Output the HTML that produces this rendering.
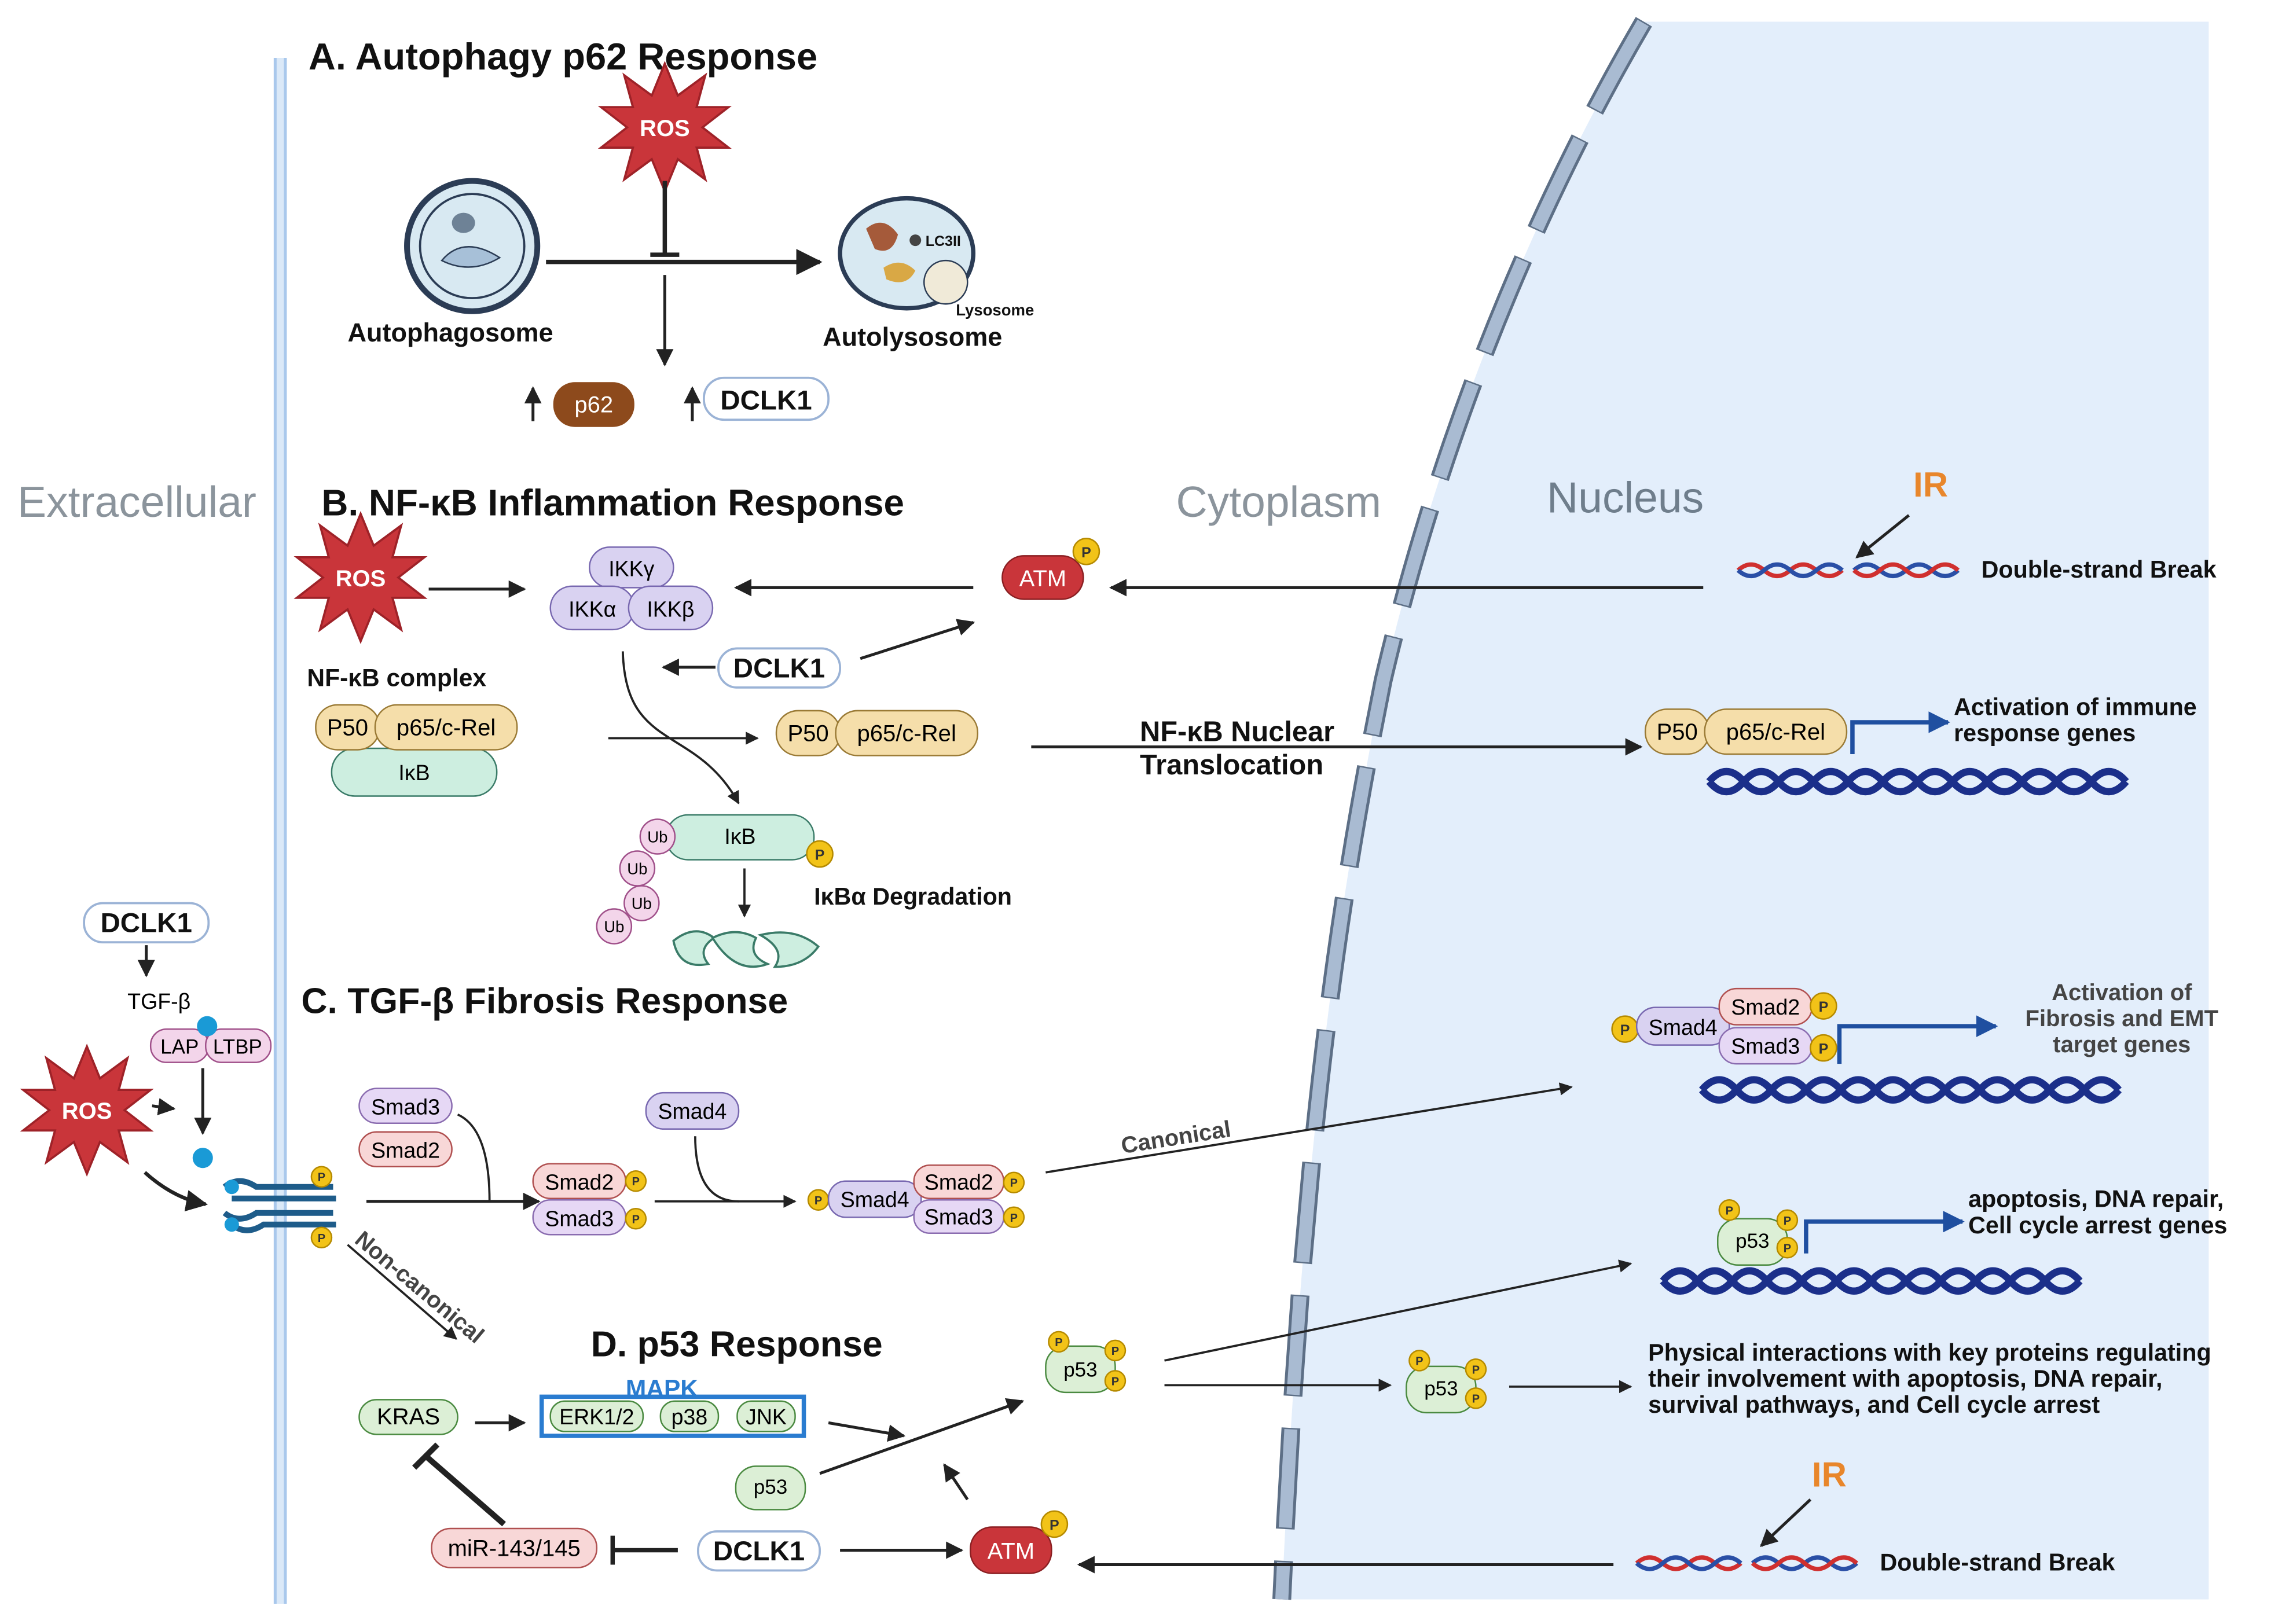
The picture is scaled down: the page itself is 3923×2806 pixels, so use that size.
<!DOCTYPE html>
<html><head><meta charset="utf-8"><style>
html,body{margin:0;padding:0;background:#fff}
svg{display:block}
text{font-family:"Liberation Sans",Arial,sans-serif}
.t{font-weight:bold;font-size:26px;fill:#111}
.b{font-weight:bold;fill:#111}
</style></head><body>
<svg width="3923" height="2806" viewBox="0 0 1568 1122" preserveAspectRatio="none" xmlns="http://www.w3.org/2000/svg">
<defs>
<marker id="ah" viewBox="0 0 10 10" refX="9" refY="5" markerWidth="6" markerHeight="6" orient="auto"><path d="M0,0 L10,5 L0,10 z" fill="#222"/></marker>
<marker id="bh" viewBox="0 0 10 10" refX="9" refY="5" markerWidth="5" markerHeight="5" orient="auto"><path d="M0,0 L10,5 L0,10 z" fill="#1f4fa0"/></marker>
<g id="ros"><polygon points="0,-44 9,-22 28,-36 22,-14 44,-14 26,0 44,14 22,14 28,36 9,22 0,44 -9,22 -28,36 -22,14 -44,14 -26,0 -44,-14 -22,-14 -28,-36 -9,-22" fill="#c9353a" stroke="#9e2228" stroke-width="1.5"/><text x="0" y="6" text-anchor="middle" font-size="16" font-weight="bold" fill="#fff">ROS</text></g>
<g id="p"><circle r="9" fill="#f2c318" stroke="#b58a00"/><text y="4" text-anchor="middle" font-size="10" font-weight="bold" fill="#333">P</text></g>
<g id="ps"><circle r="7" fill="#f2c318" stroke="#b58a00"/><text y="3" text-anchor="middle" font-size="8" font-weight="bold" fill="#333">P</text></g>
<g id="dna1"><path d="M0,0 q12,-14 24,0 t24,0 t24,0 t24,0 t24,0 t24,0 t24,0 t24,0 t24,0 t24,0 t24,0 t24,0" fill="none" stroke="#1b2f8a" stroke-width="5"/><path d="M0,0 q12,14 24,0 t24,0 t24,0 t24,0 t24,0 t24,0 t24,0 t24,0 t24,0 t24,0 t24,0 t24,0" fill="none" stroke="#1b2f8a" stroke-width="5"/></g>
<g id="dsb"><path d="M0,0 q9,-8 18,0 t18,0 t18,0 t18,0" fill="none" stroke="#d0302f" stroke-width="3"/><path d="M0,0 q9,8 18,0 t18,0 t18,0 t18,0" fill="none" stroke="#2a4fa6" stroke-width="3"/><path d="M80,0 q9,-8 18,0 t18,0 t18,0 t18,0" fill="none" stroke="#2a4fa6" stroke-width="3"/><path d="M80,0 q9,8 18,0 t18,0 t18,0 t18,0" fill="none" stroke="#d0302f" stroke-width="3"/></g>
</defs>

<path d="M1135,15 C1050,160 990,320 955,470 C925,620 900,780 885,1105 L1525,1105 L1525,15 Z" fill="#e3eefb"/>
<path d="M1135,15 C1050,160 990,320 955,470 C925,620 900,780 885,1105" fill="none" stroke="#5d6f86" stroke-width="13" stroke-dasharray="70,22"/>
<path d="M1135,15 C1050,160 990,320 955,470 C925,620 900,780 885,1105" fill="none" stroke="#a9bbd2" stroke-width="9" stroke-dasharray="68,24" stroke-dashoffset="-1"/>

<rect x="189" y="40" width="9" height="1068" fill="#dbe9f8"/>
<line x1="190" y1="40" x2="190" y2="1108" stroke="#a9c8ec" stroke-width="2"/>
<line x1="197" y1="40" x2="197" y2="1108" stroke="#a9c8ec" stroke-width="2"/>

<text x="12" y="357" font-size="30" fill="#8b949c">Extracellular</text>
<text x="812" y="357" font-size="30" fill="#8b949c">Cytoplasm</text>
<text x="1068" y="354" font-size="30" fill="#6f7e8c">Nucleus</text>

<!-- A -->
<text x="213" y="48" class="t">A. Autophagy p62 Response</text>
<use href="#ros" x="459" y="88"/>
<circle cx="326" cy="170" r="45" fill="#d8e9f2" stroke="#2b3c55" stroke-width="4"/>
<circle cx="326" cy="170" r="36" fill="none" stroke="#2b3c55" stroke-width="1.5"/>
<ellipse cx="320" cy="154" rx="8" ry="7" fill="#6e8296"/>
<path d="M305,180 q15,-18 40,-2 q-20,12 -40,2z" fill="#a7c0d8" stroke="#2b3c55"/>
<text x="240" y="236" class="b" font-size="18">Autophagosome</text>
<line x1="377" y1="181" x2="566" y2="181" stroke="#222" stroke-width="3" marker-end="url(#ah)"/>
<line x1="459" y1="125" x2="459" y2="176" stroke="#222" stroke-width="3"/>
<line x1="449" y1="176" x2="469" y2="176" stroke="#222" stroke-width="3"/>
<line x1="459" y1="190" x2="459" y2="252" stroke="#222" stroke-width="2" marker-end="url(#ah)"/>
<ellipse cx="626" cy="175" rx="46" ry="38" fill="#d8e9f2" stroke="#2b3c55" stroke-width="3"/>
<path d="M598,158 q12,-10 22,4 q-4,15 -16,10z" fill="#a55a3a"/>
<path d="M610,185 q12,-8 22,2 q-6,12 -20,6z" fill="#d9a845"/>
<circle cx="632" cy="166" r="4" fill="#444"/>
<text x="639" y="170" font-size="10" class="b">LC3II</text>
<circle cx="653" cy="195" r="15" fill="#f0ead8" stroke="#2b3c55"/>
<text x="660" y="218" font-size="11" class="b">Lysosome</text>
<text x="568" y="239" class="b" font-size="18">Autolysosome</text>
<line x1="368" y1="291" x2="368" y2="268" stroke="#222" stroke-width="2" marker-end="url(#ah)"/>
<rect x="382" y="264" width="56" height="31" rx="15" fill="#8d4a1c"/>
<text x="410" y="285" font-size="16" fill="#fff" text-anchor="middle">p62</text>
<line x1="478" y1="291" x2="478" y2="268" stroke="#222" stroke-width="2" marker-end="url(#ah)"/>
<rect x="486" y="261" width="86" height="29" rx="14" fill="#fff" stroke="#9bb3d6" stroke-width="1.5"/>
<text x="529" y="283" class="b" font-size="19" text-anchor="middle">DCLK1</text>

<!-- B -->
<text x="222" y="356" class="t" style="font-size:25.5px">B. NF-κB Inflammation Response</text>
<use href="#ros" x="249" y="399"/>
<line x1="296" y1="407" x2="362" y2="407" stroke="#222" stroke-width="2" marker-end="url(#ah)"/>
<rect x="407" y="378" width="58" height="28" rx="14" fill="#d9d2f1" stroke="#7868b0"/><text x="436" y="398" font-size="15" text-anchor="middle">IKKγ</text>
<rect x="380" y="405" width="58" height="30" rx="15" fill="#d9d2f1" stroke="#7868b0"/><text x="409" y="426" font-size="15" text-anchor="middle">IKKα</text>
<rect x="434" y="405" width="58" height="30" rx="15" fill="#d9d2f1" stroke="#7868b0"/><text x="463" y="426" font-size="15" text-anchor="middle">IKKβ</text>
<line x1="672" y1="406" x2="508" y2="406" stroke="#222" stroke-width="2" marker-end="url(#ah)"/>
<rect x="692" y="384" width="56" height="30" rx="15" fill="#c9353a" stroke="#8a1f22"/><text x="720" y="405" font-size="16" fill="#fff" text-anchor="middle">ATM</text>
<use href="#p" x="750" y="381"/>
<line x1="1176" y1="406" x2="767" y2="406" stroke="#222" stroke-width="2" marker-end="url(#ah)"/>
<text x="1333" y="343" font-size="24" font-weight="bold" fill="#e8862b" text-anchor="middle">IR</text>
<line x1="1318" y1="356" x2="1282" y2="385" stroke="#222" stroke-width="2" marker-end="url(#ah)"/>
<use href="#dsb" x="1200" y="394"/>
<text x="1368" y="399" class="b" font-size="16.5">Double-strand Break</text>
<line x1="494" y1="461" x2="458" y2="461" stroke="#222" stroke-width="2" marker-end="url(#ah)"/>
<rect x="496" y="448" width="84" height="27" rx="13" fill="#fff" stroke="#9bb3d6" stroke-width="1.5"/>
<text x="538" y="468" class="b" font-size="19" text-anchor="middle">DCLK1</text>
<line x1="594" y1="455" x2="672" y2="430" stroke="#222" stroke-width="2" marker-end="url(#ah)"/>
<text x="212" y="474" class="b" font-size="17">NF-κB complex</text>
<rect x="229" y="517" width="114" height="33" rx="16" fill="#cdeee0" stroke="#3a7b68"/><text x="286" y="539" font-size="15" text-anchor="middle">IκB</text>
<rect x="218" y="487" width="44" height="31" rx="15" fill="#f5deaa" stroke="#9a7a35"/><text x="240" y="508" font-size="16" text-anchor="middle">P50</text>
<rect x="259" y="487" width="98" height="31" rx="15" fill="#f5deaa" stroke="#9a7a35"/><text x="308" y="508" font-size="16" text-anchor="middle">p65/c-Rel</text>
<path d="M430,450 C432,520 480,500 510,555" fill="none" stroke="#222" stroke-width="1.5" marker-end="url(#ah)"/>
<line x1="420" y1="510" x2="523" y2="510" stroke="#222" stroke-width="1.5" marker-end="url(#ah)"/>
<rect x="536" y="491" width="44" height="31" rx="15" fill="#f5deaa" stroke="#9a7a35"/><text x="558" y="512" font-size="16" text-anchor="middle">P50</text>
<rect x="577" y="491" width="98" height="31" rx="15" fill="#f5deaa" stroke="#9a7a35"/><text x="626" y="512" font-size="16" text-anchor="middle">p65/c-Rel</text>
<line x1="712" y1="516" x2="1133" y2="516" stroke="#222" stroke-width="2" marker-end="url(#ah)"/>
<text x="787" y="512" class="b" font-size="19.5">NF-κB Nuclear</text>
<text x="787" y="535" class="b" font-size="19.5">Translocation</text>
<use href="#dna1" x="1180" y="540"/>
<rect x="1136" y="490" width="44" height="31" rx="15" fill="#f5deaa" stroke="#9a7a35"/><text x="1158" y="511" font-size="16" text-anchor="middle">P50</text>
<rect x="1177" y="490" width="98" height="31" rx="15" fill="#f5deaa" stroke="#9a7a35"/><text x="1226" y="511" font-size="16" text-anchor="middle">p65/c-Rel</text>
<path d="M1279,521 L1279,499 L1345,499" fill="none" stroke="#1f4fa0" stroke-width="3" marker-end="url(#bh)"/>
<text x="1349" y="494" class="b" font-size="16.5">Activation of immune</text>
<text x="1349" y="512" class="b" font-size="16.5">response genes</text>
<rect x="460" y="563" width="102" height="31" rx="15" fill="#cdeee0" stroke="#3a7b68"/><text x="511" y="583" font-size="15" text-anchor="middle">IκB</text>
<use href="#p" x="566" y="590"/>
<g font-size="11" text-anchor="middle">
<circle cx="454" cy="578" r="12" fill="#f3d5ea" stroke="#a0508a"/><text x="454" y="582">Ub</text>
<circle cx="440" cy="600" r="12" fill="#f3d5ea" stroke="#a0508a"/><text x="440" y="604">Ub</text>
<circle cx="443" cy="624" r="12" fill="#f3d5ea" stroke="#a0508a"/><text x="443" y="628">Ub</text>
<circle cx="424" cy="640" r="12" fill="#f3d5ea" stroke="#a0508a"/><text x="424" y="644">Ub</text>
</g>
<line x1="514" y1="600" x2="514" y2="633" stroke="#222" stroke-width="1.5" marker-end="url(#ah)"/>
<text x="562" y="625" class="b" font-size="16.5">IκBα Degradation</text>
<g fill="#cdeee0" stroke="#3a7b68" stroke-width="1.5">
<path d="M465,650 q15,-12 28,-2 q-12,8 -4,18 q-20,4 -24,-16z"/>
<path d="M492,648 q16,-8 30,0 q-6,12 8,18 q-22,8 -38,-18z"/>
<path d="M525,646 q24,-6 40,8 q-10,14 -30,14 q8,-12 -10,-22z"/>
</g>

<!-- C -->
<text x="208" y="700" class="t" style="font-size:25px">C. TGF-β Fibrosis Response</text>
<rect x="58" y="624" width="86" height="27" rx="13" fill="#fff" stroke="#9bb3d6" stroke-width="1.5"/>
<text x="101" y="644" class="b" font-size="19" text-anchor="middle">DCLK1</text>
<line x1="101" y1="653" x2="101" y2="674" stroke="#222" stroke-width="2" marker-end="url(#ah)"/>
<text x="88" y="697" font-size="15">TGF-β</text>
<rect x="104" y="711" width="40" height="23" rx="11" fill="#f3d5ea" stroke="#a0508a"/><text x="124" y="728" font-size="14" text-anchor="middle">LAP</text>
<rect x="142" y="711" width="45" height="23" rx="11" fill="#f3d5ea" stroke="#a0508a"/><text x="164" y="728" font-size="14" text-anchor="middle">LTBP</text>
<circle cx="143" cy="709" r="7" fill="#1a9ad6"/>
<line x1="140" y1="738" x2="140" y2="783" stroke="#222" stroke-width="2" marker-end="url(#ah)"/>
<circle cx="140" cy="800" r="7" fill="#1a9ad6"/>
<use href="#ros" x="60" y="767"/>
<line x1="105" y1="764" x2="120" y2="766" stroke="#222" stroke-width="2" marker-end="url(#ah)"/>
<path d="M100,810 q20,18 42,22" fill="none" stroke="#222" stroke-width="2.5" marker-end="url(#ah)"/>
<g stroke="#1e5c8a" stroke-width="4" fill="none">
<path d="M155,820 q10,-8 22,0 L230,820"/><path d="M155,838 q10,8 22,0 L230,838"/>
<path d="M160,828 L232,828"/><path d="M160,846 q10,8 22,0 L232,846"/>
</g>
<circle cx="160" cy="820" r="5" fill="#1a9ad6"/><circle cx="160" cy="846" r="5" fill="#1a9ad6"/>
<use href="#ps" x="222" y="813"/><use href="#ps" x="222" y="855"/>
<rect x="248" y="752" width="64" height="24" rx="12" fill="#e6d8f5" stroke="#8a6cb0"/><text x="280" y="770" font-size="15" text-anchor="middle">Smad3</text>
<rect x="248" y="782" width="64" height="24" rx="12" fill="#f8d7d7" stroke="#b05050"/><text x="280" y="800" font-size="15" text-anchor="middle">Smad2</text>
<path d="M316,770 q22,10 22,60" fill="none" stroke="#222" stroke-width="1.5"/>
<line x1="253" y1="830" x2="372" y2="830" stroke="#222" stroke-width="2" marker-end="url(#ah)"/>
<rect x="368" y="804" width="64" height="24" rx="12" fill="#f8d7d7" stroke="#b05050"/><text x="400" y="822" font-size="15" text-anchor="middle">Smad2</text>
<rect x="368" y="829" width="64" height="24" rx="12" fill="#e6d8f5" stroke="#8a6cb0"/><text x="400" y="847" font-size="15" text-anchor="middle">Smad3</text>
<use href="#ps" x="439" y="816"/><use href="#ps" x="439" y="842"/>
<rect x="446" y="755" width="64" height="25" rx="12" fill="#d9d2f1" stroke="#7868b0"/><text x="478" y="773" font-size="15" text-anchor="middle">Smad4</text>
<path d="M480,785 q0,45 30,45" fill="none" stroke="#222" stroke-width="1.5"/>
<line x1="452" y1="830" x2="549" y2="830" stroke="#222" stroke-width="1.5" marker-end="url(#ah)"/>
<use href="#ps" x="565" y="829"/>
<rect x="572" y="816" width="64" height="25" rx="12" fill="#d9d2f1" stroke="#7868b0"/><text x="604" y="834" font-size="15" text-anchor="middle">Smad4</text>
<rect x="631" y="805" width="62" height="23" rx="11" fill="#f8d7d7" stroke="#b05050"/><text x="662" y="822" font-size="15" text-anchor="middle">Smad2</text>
<rect x="631" y="829" width="62" height="23" rx="11" fill="#e6d8f5" stroke="#8a6cb0"/><text x="662" y="846" font-size="15" text-anchor="middle">Smad3</text>
<use href="#ps" x="700" y="817"/><use href="#ps" x="700" y="841"/>
<line x1="722" y1="810" x2="1085" y2="751" stroke="#222" stroke-width="1.5" marker-end="url(#ah)"/>
<text x="775" y="797" font-size="16" font-weight="bold" fill="#444" transform="rotate(-9 775 797)">Canonical</text>
<use href="#dna1" x="1175" y="753"/>
<use href="#p" x="1122" y="711"/>
<rect x="1130" y="696" width="64" height="26" rx="13" fill="#d9d2f1" stroke="#7868b0"/><text x="1162" y="715" font-size="15" text-anchor="middle">Smad4</text>
<rect x="1187" y="683" width="64" height="25" rx="12" fill="#f8d7d7" stroke="#b05050"/><text x="1219" y="701" font-size="15" text-anchor="middle">Smad2</text>
<rect x="1187" y="710" width="64" height="25" rx="12" fill="#e6d8f5" stroke="#8a6cb0"/><text x="1219" y="728" font-size="15" text-anchor="middle">Smad3</text>
<use href="#p" x="1259" y="695"/><use href="#p" x="1259" y="724"/>
<path d="M1270,735 L1270,709 L1378,709" fill="none" stroke="#1f4fa0" stroke-width="3" marker-end="url(#bh)"/>
<g font-size="16" font-weight="bold" fill="#444" text-anchor="middle">
<text x="1465" y="691">Activation of</text><text x="1465" y="709">Fibrosis and EMT</text><text x="1465" y="727">target genes</text></g>
<line x1="240" y1="860" x2="315" y2="925" stroke="#222" stroke-width="1.5" marker-end="url(#ah)"/>
<text x="244" y="858" font-size="16" font-weight="bold" fill="#444" transform="rotate(40 244 858)">Non-canonical</text>

<!-- D -->
<text x="408" y="937" class="t" style="font-size:25px">D. p53 Response</text>
<text x="432" y="965" font-size="17" font-weight="bold" fill="#2a7cd0">MAPK</text>
<rect x="374" y="965" width="181" height="27" fill="#fff" stroke="#2a7cd0" stroke-width="3"/>
<rect x="380" y="968" width="64" height="21" rx="10" fill="#dcefd6" stroke="#4a8a40"/><text x="412" y="984" font-size="15" text-anchor="middle">ERK1/2</text>
<rect x="456" y="968" width="40" height="21" rx="10" fill="#dcefd6" stroke="#4a8a40"/><text x="476" y="984" font-size="15" text-anchor="middle">p38</text>
<rect x="509" y="968" width="40" height="21" rx="10" fill="#dcefd6" stroke="#4a8a40"/><text x="529" y="984" font-size="15" text-anchor="middle">JNK</text>
<rect x="248" y="967" width="68" height="24" rx="12" fill="#dcefd6" stroke="#4a8a40"/><text x="282" y="984" font-size="16" text-anchor="middle">KRAS</text>
<line x1="328" y1="983" x2="362" y2="983" stroke="#222" stroke-width="2" marker-end="url(#ah)"/>
<line x1="572" y1="983" x2="624" y2="992" stroke="#222" stroke-width="2" marker-end="url(#ah)"/>
<rect x="508" y="1013" width="48" height="30" rx="14" fill="#dcefd6" stroke="#4a8a40"/><text x="532" y="1032" font-size="14" text-anchor="middle">p53</text>
<line x1="566" y1="1018" x2="706" y2="968" stroke="#222" stroke-width="2" marker-end="url(#ah)"/>
<line x1="668" y1="1036" x2="652" y2="1012" stroke="#222" stroke-width="2" marker-end="url(#ah)"/>
<rect x="722" y="930" width="48" height="32" rx="14" fill="#dcefd6" stroke="#4a8a40"/><text x="746" y="951" font-size="14" text-anchor="middle">p53</text>
<use href="#ps" x="731" y="927"/><use href="#ps" x="770" y="933"/><use href="#ps" x="770" y="954"/>
<line x1="804" y1="940" x2="1126" y2="873" stroke="#222" stroke-width="1.5" marker-end="url(#ah)"/>
<line x1="804" y1="957" x2="960" y2="957" stroke="#222" stroke-width="1.5" marker-end="url(#ah)"/>
<rect x="971" y="944" width="48" height="32" rx="14" fill="#dcefd6" stroke="#4a8a40"/><text x="995" y="964" font-size="14" text-anchor="middle">p53</text>
<use href="#ps" x="980" y="940"/><use href="#ps" x="1019" y="946"/><use href="#ps" x="1019" y="966"/>
<line x1="1042" y1="958" x2="1126" y2="958" stroke="#222" stroke-width="1.5" marker-end="url(#ah)"/>
<g class="b" font-size="16.5"><text x="1138" y="940">Physical interactions with key proteins regulating</text><text x="1138" y="958">their involvement  with apoptosis, DNA repair,</text><text x="1138" y="976">survival pathways, and Cell cycle arrest</text></g>
<use href="#dna1" x="1148" y="885"/>
<rect x="1186" y="842" width="48" height="32" rx="14" fill="#dcefd6" stroke="#4a8a40"/><text x="1210" y="862" font-size="14" text-anchor="middle">p53</text>
<use href="#ps" x="1194" y="836"/><use href="#ps" x="1234" y="843"/><use href="#ps" x="1234" y="862"/>
<path d="M1247,866 L1247,844 L1355,844" fill="none" stroke="#1f4fa0" stroke-width="3" marker-end="url(#bh)"/>
<g class="b" font-size="16.5"><text x="1359" y="834">apoptosis, DNA repair,</text><text x="1359" y="852">Cell cycle arrest genes</text></g>
<rect x="298" y="1056" width="114" height="27" rx="13" fill="#f8d7d7" stroke="#b05050"/><text x="355" y="1075" font-size="16" text-anchor="middle">miR-143/145</text>
<line x1="348" y1="1053" x2="294" y2="1006" stroke="#222" stroke-width="4"/>
<line x1="286" y1="1014" x2="302" y2="998" stroke="#222" stroke-width="4"/>
<line x1="468" y1="1071" x2="423" y2="1071" stroke="#222" stroke-width="3"/>
<line x1="423" y1="1061" x2="423" y2="1081" stroke="#222" stroke-width="3"/>
<rect x="482" y="1058" width="84" height="27" rx="13" fill="#fff" stroke="#9bb3d6" stroke-width="1.5"/>
<text x="524" y="1078" class="b" font-size="19" text-anchor="middle">DCLK1</text>
<line x1="580" y1="1071" x2="664" y2="1071" stroke="#222" stroke-width="2" marker-end="url(#ah)"/>
<rect x="670" y="1055" width="56" height="32" rx="15" fill="#c9353a" stroke="#8a1f22"/><text x="698" y="1077" font-size="16" fill="#fff" text-anchor="middle">ATM</text>
<use href="#p" x="728" y="1053"/>
<line x1="1114" y1="1081" x2="745" y2="1081" stroke="#222" stroke-width="2" marker-end="url(#ah)"/>
<text x="1263" y="1027" font-size="24" font-weight="bold" fill="#e8862b" text-anchor="middle">IR</text>
<line x1="1250" y1="1036" x2="1216" y2="1068" stroke="#222" stroke-width="2" marker-end="url(#ah)"/>
<use href="#dsb" x="1130" y="1080"/>
<text x="1298" y="1085" class="b" font-size="16.5">Double-strand Break</text>
</svg>
</body></html>
